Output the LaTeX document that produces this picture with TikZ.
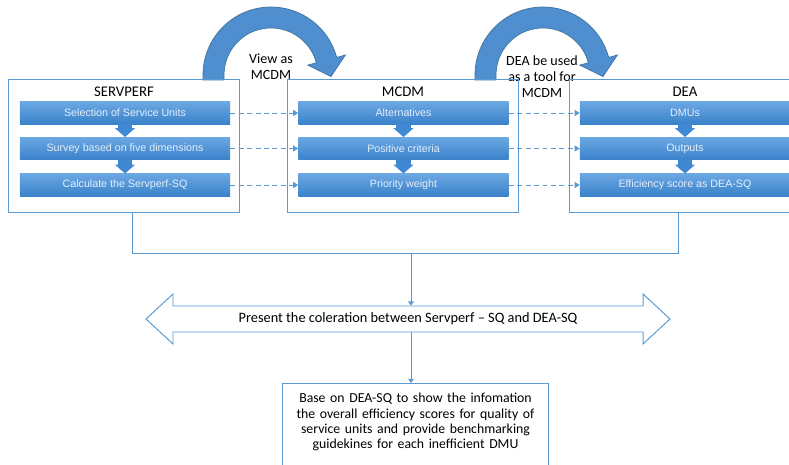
\documentclass[tikz,border=0pt]{standalone}
\usepackage{fontspec}
\setmainfont{Carlito}
\newfontfamily\barfont{Liberation Sans}
\usetikzlibrary{positioning, arrows.meta, calc}
\definecolor{boxblue}{HTML}{5B9BD5}
\definecolor{bartop}{HTML}{6BA7E2}
\definecolor{barbot}{HTML}{3A82CB}
\definecolor{chevblue}{HTML}{3F89D2}
\definecolor{bendfill}{HTML}{4F8FCF}
\definecolor{bendline}{HTML}{41739F}

\begin{document}
\begin{tikzpicture}[x=0.025cm, y=-0.025cm,
    outerbox/.style={draw=boxblue, line width=0.7pt, minimum width=5.75cm, minimum height=3.3cm, inner sep=0pt},
    boxtitle/.style={font=\fontsize{10.5}{12}\selectfont, inner sep=0pt},
    bar/.style={top color=bartop, bottom color=barbot, minimum width=5.25cm, minimum height=0.56cm, inner sep=0pt,
      text=white!82!bartop, font=\barfont\fontsize{7.6}{9}\selectfont},
    chev/.style={draw=chevblue, line width=10pt, -{Triangle[width=14.2pt, length=6.4pt]}},
    dasharrow/.style={draw=boxblue, line width=0.6pt, dash pattern=on 3.5pt off 2.5pt, -{Triangle[width=4.3pt, length=3.6pt]}},
    link/.style={draw=boxblue, line width=0.7pt},
    bendarrow/.style={fill=bendfill, draw=bendline, line width=0.5pt},
    note/.style={font=\fontsize{10}{11.6}\selectfont, align=center, inner sep=0pt}]
    \useasboundingbox (0,0) rectangle (789,465);
    \clip (0,0) rectangle (789,465);
    % Bogenpfeile oben
    \foreach \dx in {0,272}
      \draw[bendarrow, shift={(\dx,0)}]
        (203,80) -- (203,75) arc[start angle=180, end angle=345, radius=68]
        -- (345.4,55) -- (331,76.5) -- (307.7,65.1) -- (316.4,62.8)
        arc[start angle=345, end angle=180, radius=47] -- (224,80) -- cycle;
    \node[note] (viewas) at (271,67) {View as\\MCDM};
    \node[note] (usedas) at (542,76.5) {DEA be used\\as a tool for\\MCDM};
    % Rahmen
    \node[outerbox] (servperf) at (124,146) {};
    \node[outerbox] (mcdm) at (403,146) {};
    \node[outerbox] (dea) at (685,146) {};
    \node[boxtitle] (servperftitle) at (124,92) {SERVPERF};
    \node[boxtitle] (mcdmtitle) at (403,92) {MCDM};
    \node[boxtitle] (deatitle) at (685,92) {DEA};
    % Schritte
    \node[bar] (s1) at (125,113) {Selection of Service Units};
    \node[bar] (s2) at (125,148.5) {Survey based on five dimensions};
    \node[bar] (s3) at (125,185) {Calculate the Servperf-SQ};
    \node[bar] (m1) at (403.5,113) {Alternatives};
    \node[bar] (m2) at (403.5,148.5) {Positive criteria};
    \node[bar] (m3) at (403.5,185) {Priority weight};
    \node[bar] (d1) at (685,113) {DMUs};
    \node[bar] (d2) at (685,148.5) {Outputs};
    \node[bar] (d3) at (685,185) {Efficiency score as DEA-SQ};
    \foreach \b in {s,m,d} {
      \draw[chev] (\b1.south) -- (\b2.north);
      \draw[chev] (\b2.south) -- (\b3.north);
    }
    \foreach \i in {1,2,3} {
      \draw[dasharrow] (s\i.east) -- (m\i.west);
      \draw[dasharrow] (m\i.east) -- (d\i.west);
    }
    % Zusammenfuehrung
    \coordinate (join) at (411,253);
    \draw[link] ([xshift=0.2cm]servperf.south) |- ([xshift=-0.175cm]dea.south |- join)
      -- ([xshift=-0.175cm]dea.south);
    \node[font=\fontsize{10.2}{11}\selectfont, minimum height=0.65cm, inner sep=0pt] (coleration) at (408,319)
      {Present the coleration between Servperf -- SQ and DEA-SQ};
    \draw[link] (173,306) -- (643,306) -- (643,294) -- (670,319) -- (643,344) -- (643,332)
      -- (173,332) -- (173,344) -- (146,319) -- (173,294) -- cycle;
    \draw[link, -{Triangle[width=4pt, length=3pt]}] (join) -- (join |- coleration.north);
    \node[draw=boxblue, line width=0.7pt, anchor=north, text width=6.4cm, inner xsep=0.1125cm, inner ysep=7pt,
      align=center, font=\fontsize{9.8}{10.9}\selectfont] (final) at (415.5,383)
      {Base on DEA-SQ to show the infomation\\the overall efficiency scores for quality of\\service units and provide benchmarking\\guidekines for each inefficient DMU\\\mbox{}\\\mbox{}};
    \draw[link, -{Triangle[width=4pt, length=3pt]}] (join |- coleration.south) -- (join |- final.north);
\end{tikzpicture}
\end{document}
